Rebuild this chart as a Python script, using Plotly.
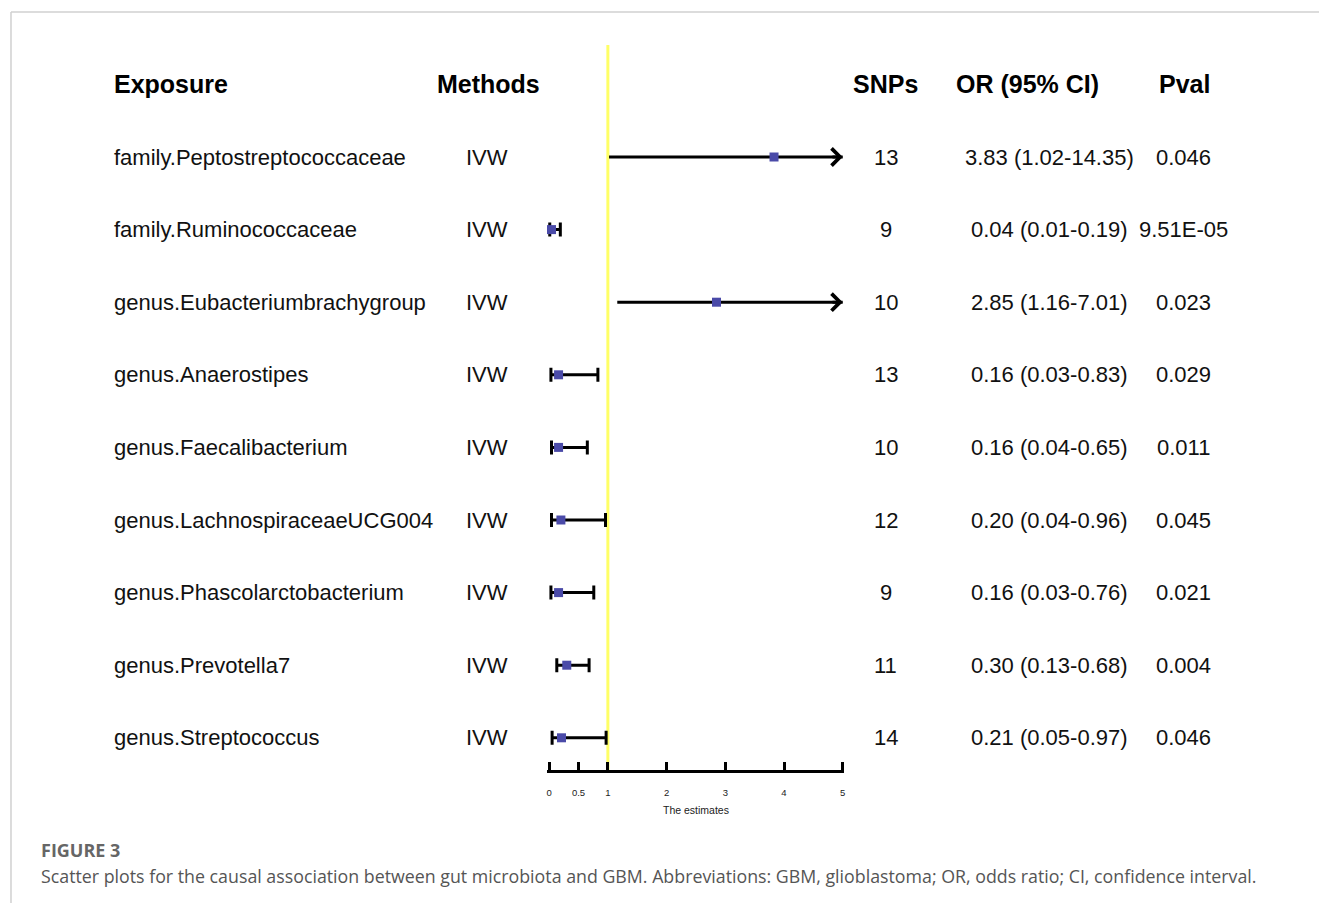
import plotly.graph_objects as go

# ---------------- data ----------------
exposures = ["family.Peptostreptococcaceae", "family.Ruminococcaceae",
             "genus.Eubacteriumbrachygroup", "genus.Anaerostipes",
             "genus.Faecalibacterium", "genus.LachnospiraceaeUCG004",
             "genus.Phascolarctobacterium", "genus.Prevotella7",
             "genus.Streptococcus"]
methods = ["IVW"] * 9
snps = [13, 9, 10, 13, 10, 12, 9, 11, 14]
or_est = [3.83, 0.04, 2.85, 0.16, 0.16, 0.20, 0.16, 0.30, 0.21]
ci_lo = [1.02, 0.01, 1.16, 0.03, 0.04, 0.04, 0.03, 0.13, 0.05]
ci_hi = [14.35, 0.19, 7.01, 0.83, 0.65, 0.96, 0.76, 0.68, 0.97]
pvals = ["0.046", "9.51E-05", "0.023", "0.029", "0.011", "0.045", "0.021", "0.004", "0.046"]
headers = ["Exposure", "Methods", "SNPs", "OR (95% CI)", "Pval"]
tick_vals = [0, 0.5, 1, 2, 3, 4, 5]
tick_text = ["0", "0.5", "1", "2", "3", "4", "5"]
x_max = 5
ref_line = 1

W, H = 1320, 903
def px(x):
    return x / W
def py(y):
    return 1 - y / H

rows = list(range(len(exposures)))
FONT = "Liberation Sans, Arial, sans-serif"
CAP_FONT = "Open Sans, Noto Sans, sans-serif"
PT_COLOR = "#4a4aa8"

fig = go.Figure()

inside = [i for i in rows if ci_hi[i] <= x_max]
trunc = [i for i in rows if ci_hi[i] > x_max]

# CIs inside the axis -> error bars
fig.add_trace(go.Scatter(
    x=[or_est[i] for i in inside], y=inside, mode="markers",
    marker=dict(symbol="square", size=9, color=PT_COLOR),
    error_x=dict(type="data", symmetric=False,
                 array=[ci_hi[i] - or_est[i] for i in inside],
                 arrayminus=[or_est[i] - ci_lo[i] for i in inside],
                 color="black", thickness=3, width=7),
    cliponaxis=False, showlegend=False, hoverinfo="skip"))

# truncated CIs -> line to the axis maximum with an arrow
lx, ly = [], []
for i in trunc:
    lx += [ci_lo[i], x_max, None]
    ly += [i, i, None]
fig.add_trace(go.Scatter(x=lx, y=ly, mode="lines",
                         line=dict(color="black", width=3),
                         cliponaxis=False, showlegend=False, hoverinfo="skip"))
fig.add_trace(go.Scatter(
    x=[or_est[i] for i in trunc], y=trunc, mode="markers",
    marker=dict(symbol="square", size=9, color=PT_COLOR),
    cliponaxis=False, showlegend=False, hoverinfo="skip"))
for i in trunc:
    fig.add_annotation(x=x_max, y=i, ax=x_max - 0.2, ay=i, xref="x", yref="y",
                       axref="x", ayref="y", text="", showarrow=True,
                       arrowhead=4, arrowsize=1.1, arrowwidth=3,
                       arrowcolor="black", standoff=0)

# reference line at 1
fig.add_shape(type="line", xref="x", yref="paper", x0=ref_line, x1=ref_line,
              y0=py(772), y1=py(45), line=dict(color="#ffff66", width=3),
              layer="below")

# headers
hdr_pos = [(111, "left"), (488, "center"), (886, "center"), (1028, "center"), (1185, "center")]
for (xp, anc), t in zip(hdr_pos, headers):
    fig.add_annotation(x=px(xp), y=-1, xref="paper", yref="y", text="<b>%s</b>" % t,
                       showarrow=False, xanchor=anc, yanchor="middle",
                       font=dict(family=FONT, size=25, color="black"))

# table body
for i in rows:
    cells = [
        (111, "left", exposures[i]),
        (487, "center", methods[i]),
        (886, "center", str(snps[i])),
        (1050, "center", "%.2f (%.2f-%.2f)" % (or_est[i], ci_lo[i], ci_hi[i])),
        (1184, "center", pvals[i]),
    ]
    for xp, anc, t in cells:
        fig.add_annotation(x=px(xp), y=i, xref="paper", yref="y", text=t,
                           showarrow=False, xanchor=anc, yanchor="middle",
                           font=dict(family=FONT, size=22, color="#111111"))

# caption
fig.add_annotation(x=px(38), y=py(850), xref="paper", yref="paper",
                   text="<b>FIGURE 3</b>", showarrow=False, xanchor="left", yanchor="middle",
                   font=dict(family=CAP_FONT, size=18, color="#666666"))
fig.add_annotation(x=px(38), y=py(876), xref="paper", yref="paper",
                   text="Scatter plots for the causal association between gut microbiota and GBM. "
                        "Abbreviations: GBM, glioblastoma; OR, odds ratio; CI, confidence interval.",
                   showarrow=False, xanchor="left", yanchor="middle",
                   font=dict(family=CAP_FONT, size=17.8, color="#555555"))

# frame
fig.add_shape(type="line", xref="paper", yref="paper", x0=px(10), x1=1, y0=py(12), y1=py(12),
              line=dict(color="#d0d0d0", width=1.5))
fig.add_shape(type="line", xref="paper", yref="paper", x0=px(10), x1=px(10), y0=py(12), y1=0,
              line=dict(color="#d0d0d0", width=1.5))

row_step = 72.6
y_top = -157 / row_step
y_bot = (H - 157) / row_step

# small padding so the end ticks at 0 and 5 are drawn
pad = 0.03
unit_px = (843 - 549) / x_max
fig.update_layout(
    width=W, height=H, margin=dict(l=0, r=0, t=0, b=0),
    paper_bgcolor="white", plot_bgcolor="white",
    xaxis=dict(domain=[px(549 - pad * unit_px), px(843 + pad * unit_px)],
               range=[-pad, x_max + pad], anchor="free",
               position=py(771), showgrid=False, zeroline=False,
               showline=True, linecolor="black", linewidth=2.5,
               ticks="inside", ticklen=8, tickwidth=2.5, tickcolor="black",
               tickvals=tick_vals, ticktext=tick_text, ticklabelstandoff=12,
               tickfont=dict(family=FONT, size=9.5, color="#222"),
               title=dict(text="The estimates", standoff=9,
                          font=dict(family=FONT, size=10.5, color="#222")),
               fixedrange=True),
    yaxis=dict(domain=[0, 1], range=[y_bot, y_top], visible=False, fixedrange=True),
)

fig.write_html("out.html", post_script="document.body.style.margin='0';",
               config={"displayModeBar": False})
